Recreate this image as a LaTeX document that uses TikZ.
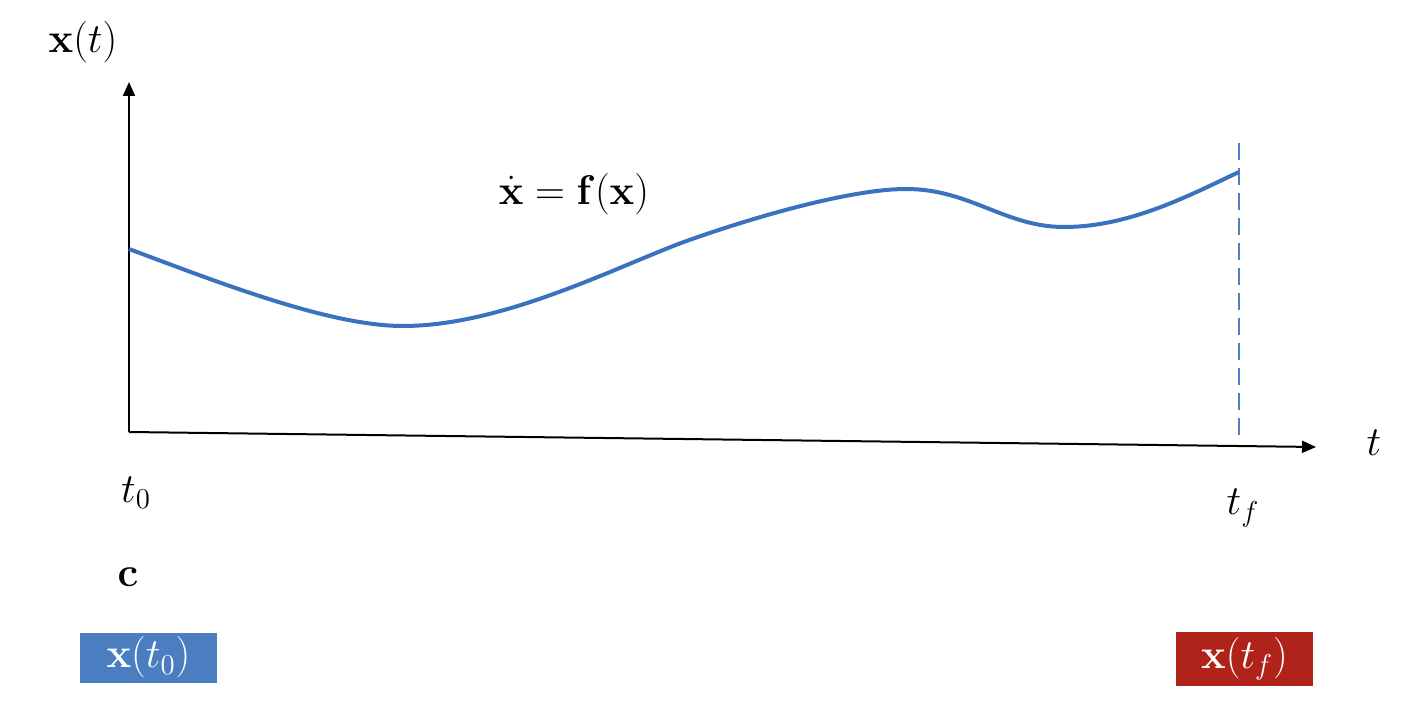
\documentclass[tikz,border=0pt]{standalone}
\usepackage{amsmath}
\usetikzlibrary{arrows.meta}
\definecolor{curveblue}{HTML}{3A72BF}
\definecolor{boxblue}{HTML}{4A7EC0}
\definecolor{boxred}{HTML}{B0231A}
\begin{document}
\begin{tikzpicture}[x=0.5pt,y=-0.5pt,
  axis/.style={line width=1pt,-{Triangle[length=7pt,width=6pt]}},
  lbl/.style={inner sep=0pt,font=\fontsize{22}{26}\selectfont},
  valbox/.style={inner sep=0pt,minimum width=68.5pt,minimum height=25pt,text=white,font=\fontsize{20}{24}\selectfont}]
\useasboundingbox (0,0) rectangle (1418,716);
\coordinate (O) at (129,432);
\coordinate (Ytip) at (129,82);
\coordinate (Xtip) at (1316,447);
\draw[axis] (O) -- (Ytip);
\draw[axis] (O) -- (Xtip);
\coordinate (Tf) at (1239,143);
\coordinate (Tfb) at (1239,437);
\draw[curveblue!90,line width=1pt,dash pattern=on 8.5pt off 4pt] (Tf) -- (Tfb);
\coordinate (c0) at (129,249);
\coordinate (c1) at (403,326);
\coordinate (c2) at (681,243);
\coordinate (c3) at (906,189);
\coordinate (c4) at (1064,227);
\coordinate (c5) at (1239,172);
\draw[curveblue,line width=2pt]
  (c0) .. controls (220,283) and (330,326) .. (c1)
       .. controls (500,326) and (610,270) .. (c2)
       .. controls (750,218) and (850,189) .. (c3)
       .. controls (970,189) and (1005,227) .. (c4)
       .. controls (1130,227) and (1190,195) .. (c5);
\node[lbl] (xt) at (83,42) {$\mathbf{x}(t)$};
\node[lbl] (eq) at (574,194) {$\dot{\mathbf{x}}=\mathbf{f}(\mathbf{x})$};
\node[lbl] (t) at (1374,443) {$t$};
\node[lbl] (t0) at (136,493) {$t_0$};
\node[lbl] (tf) at (1243,508) {$t_f$};
\node[lbl] (c) at (128,577) {$\mathbf{c}$};
\node[valbox,fill=boxblue] (x0) at (148.5,657.5) {$\mathbf{x}(t_0)$};
\node[valbox,fill=boxred,minimum height=27pt] (xf) at (1244.5,659) {$\mathbf{x}(t_f)$};
\end{tikzpicture}
\end{document}
